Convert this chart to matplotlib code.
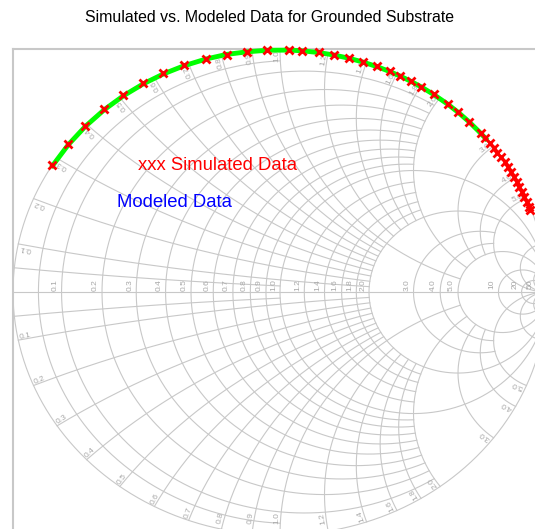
import numpy as np
import matplotlib
matplotlib.use("Agg")
import matplotlib.pyplot as plt

plt.rcParams['font.family'] = ['Liberation Sans', 'DejaVu Sans']

title = "Simulated vs. Modeled Data for Grounded Substrate"

# simulated S11 (angle in degrees, magnitude)
sim_angle = [148.6, 142.6, 136.9, 131.2, 125.9, 120.8, 115.9, 111.1, 106.1, 101.5,
             97.1, 92.8, 88.1, 85.3, 81.6, 78.2, 74.9, 71.8, 68.6, 65.7,
             63.1, 60.4, 58.0, 54.7, 51.0, 47.9, 44.7, 41.0, 39.5, 38.0,
             36.6, 35.2, 33.8, 32.4, 31.0, 29.6, 28.3, 27.0, 25.7, 24.4,
             23.1, 21.8, 20.5, 19.8]
sim_mag = [1.0, 1.0, 1.0, 1.0, 1.0, 1.0, 1.0, 1.0, 0.998, 0.997,
           0.997, 0.997, 0.997, 0.997, 0.997, 0.997, 0.997, 0.997, 0.997, 0.997,
           0.997, 0.997, 0.997, 0.997, 0.997, 0.997, 0.997, 0.996, 0.996, 0.996,
           0.996, 0.996, 0.996, 0.996, 0.996, 0.996, 0.996, 0.995, 0.995, 0.995,
           0.995, 0.995, 0.995, 0.995]

# modeled S11
mod_angle = [148.6, 142.6, 136.9, 131.2, 125.9, 120.8, 115.9, 111.1, 106.1, 101.5,
             97.1, 92.8, 88.1, 85.3, 81.6, 78.2, 74.9, 71.8, 68.6, 65.7,
             63.1, 60.4, 58.0, 54.7, 51.0, 47.9, 44.7, 41.0, 39.3]
mod_mag = [0.998] * 10 + [0.996] * 19

# smith chart grid: value -> extent of the arc
r_grid = {0.05: 1, 0.1: 2, 0.2: 2, 0.3: 2, 0.4: 2, 0.5: 2, 0.6: 2, 0.7: 2, 0.8: 2, 0.9: 2,
          1.0: np.inf, 1.2: 2, 1.4: 2, 1.6: 2, 1.8: 2, 2.0: np.inf,
          3.0: 5, 4.0: 5, 5.0: np.inf, 10: np.inf, 20: np.inf, 50: np.inf}
x_grid = {0.05: 1, 0.1: 2, 0.2: 2, 0.3: 2, 0.4: 2, 0.5: 2, 0.6: 2, 0.7: 2, 0.8: 2, 0.9: 2,
          1.0: 5, 1.2: 2, 1.4: 2, 1.6: 2, 1.8: 2, 2.0: 5,
          3.0: 5, 4.0: 5, 5.0: np.inf, 10: np.inf, 20: np.inf, 50: np.inf}
r_labels = [0.1, 0.2, 0.3, 0.4, 0.5, 0.6, 0.7, 0.8, 0.9, 1.0, 1.2, 1.4, 1.6, 1.8, 2.0,
            3.0, 4.0, 5.0, 10, 20, 50]
x_labels = [0.1, 0.2, 0.3, 0.4, 0.5, 0.6, 0.7, 0.8, 0.9, 1.0, 1.2, 1.4, 1.6, 1.8, 2.0,
            3.0, 4.0, 5.0]

grid_color = "#c8c8c8"
label_color = "#a8a8a8"


def gamma(z):
    return (z - 1) / (z + 1)


def fmt(v):
    return f"{v:.1f}" if v < 10 else f"{v:g}"


fig = plt.figure(figsize=(5.35, 5.29), dpi=100)
ax = fig.add_axes([13 / 535, 0, 1 - 13 / 535, 1 - 49 / 529])
ax.set_xlim(-1.0, 0.955)
ax.set_ylim(-0.975, 1.0)
ax.set_aspect("auto")
ax.set_xticks([])
ax.set_yticks([])
for side in ["right", "bottom"]:
    ax.spines[side].set_visible(False)
for side in ["left", "top"]:
    ax.spines[side].set_color("#c8c8c8")
    ax.spines[side].set_linewidth(1.5)

kw = dict(color=grid_color, lw=0.8, zorder=1)

# outer circle and real axis
t = np.linspace(0, 2 * np.pi, 1000)
ax.plot(np.cos(t), np.sin(t), **kw)
ax.plot([-1, 1], [0, 0], **kw)

for r, xmax in r_grid.items():
    if np.isinf(xmax):
        c, rad = r / (1 + r), 1 / (1 + r)
        ax.plot(c + rad * np.cos(t), rad * np.sin(t), **kw)
    else:
        xs = np.linspace(-xmax, xmax, 600)
        g = gamma(r + 1j * xs)
        ax.plot(g.real, g.imag, **kw)

for x, rmax in x_grid.items():
    rs = np.concatenate([np.linspace(0, min(rmax, 5), 500),
                         np.geomspace(5, min(rmax, 1e4), 300)]) if rmax > 5 else np.linspace(0, rmax, 500)
    for s in (1, -1):
        g = gamma(rs + 1j * s * x)
        ax.plot(g.real, g.imag, **kw)

for r in r_labels:
    g = gamma(r)
    ax.text(g - 0.024, 0.03, fmt(r), rotation=90, fontsize=6, color=label_color,
            ha="center", va="center", zorder=2)

for x in x_labels:
    for s in (1, -1):
        g = gamma(1j * s * x)
        ang = np.angle(g) + s * np.radians(0.7)
        th = np.degrees(np.angle(g)) % 180
        p = 0.97 * np.exp(1j * ang)
        if p.imag < -0.93:
            # keep the bottom labels inside the picture
            p = p * (-0.93 / p.imag)
        ax.text(p.real, p.imag, fmt(x), rotation=th, fontsize=6, color=label_color,
                ha="center", va="center", zorder=2, rotation_mode="anchor")

# data
sim = np.array(sim_mag) * np.exp(1j * np.radians(sim_angle))
mod = np.array(mod_mag) * np.exp(1j * np.radians(mod_angle))
ax.plot(mod.real, mod.imag, color="#00ff00", lw=3.5, zorder=3, clip_on=False)
ax.plot(sim.real, sim.imag, "x", color="red", ms=6, mew=2, zorder=4, clip_on=False)

ax.text(-0.53, 0.52, "xxx Simulated Data", color="red", fontsize=13.3, ha="left", va="center")
ax.text(-0.61, 0.37, "Modeled Data", color="blue", fontsize=13.3, ha="left", va="center")

fig.text(0.503, 1 - 17 / 529, title, ha="center", va="center", fontsize=11.4)

fig.savefig("out.png", dpi=100)
